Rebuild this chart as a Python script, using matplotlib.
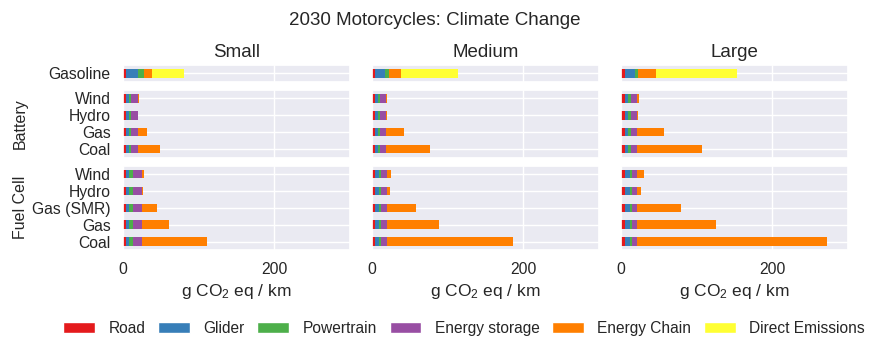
import matplotlib
matplotlib.use("Agg")
import matplotlib.pyplot as plt
from matplotlib.patches import Patch
import seaborn as sns

# Life-cycle contributions, g CO2 eq / km
sizes = ["Small", "Medium", "Large"]
components = ["Road", "Glider", "Powertrain", "Energy storage",
              "Energy Chain", "Direct Emissions"]
colors = ["#e41a1c", "#377eb8", "#4daf4a", "#984ea3", "#ff7f00", "#ffff33"]

gasoline_labels = ["Gasoline"]
battery_labels = ["Wind", "Hydro", "Gas", "Coal"]
fuelcell_labels = ["Wind", "Hydro", "Gas (SMR)", "Gas", "Coal"]

# rows: technology, columns: components
small_gasoline = [[4.4, 15.9, 8.4, 0.0, 9.7, 43.0]]
small_battery = [
    [4.4, 3.5, 3.0, 9.7, 0.8, 0.0],
    [4.4, 3.5, 3.0, 9.7, 0.4, 0.0],
    [4.4, 3.5, 3.0, 9.7, 11.9, 0.0],
    [4.4, 3.5, 3.0, 9.7, 29.0, 0.0],
]
small_fuelcell = [
    [4.4, 4.0, 5.7, 11.0, 2.6, 0.0],
    [4.4, 4.0, 5.7, 11.0, 1.3, 0.0],
    [4.4, 4.0, 5.7, 11.0, 19.8, 0.0],
    [4.4, 4.0, 5.7, 11.0, 36.0, 0.0],
    [4.4, 4.0, 5.7, 11.0, 87.0, 0.0],
]

medium_gasoline = [[4.8, 12.8, 5.3, 0.0, 15.9, 75.3]]
medium_battery = [
    [4.4, 4.0, 3.0, 8.0, 1.3, 0.0],
    [4.4, 4.0, 3.0, 8.0, 0.5, 0.0],
    [4.4, 4.0, 3.0, 8.0, 23.3, 0.0],
    [4.4, 4.0, 3.0, 8.0, 57.3, 0.0],
]
medium_fuelcell = [
    [4.4, 5.3, 3.0, 7.0, 5.7, 0.0],
    [4.4, 5.3, 3.0, 7.0, 4.0, 0.0],
    [4.4, 5.3, 3.0, 7.0, 39.2, 0.0],
    [4.4, 5.3, 3.0, 7.0, 69.6, 0.0],
    [4.4, 5.3, 3.0, 7.0, 167.0, 0.0],
]

large_gasoline = [[5.3, 13.2, 3.5, 0.0, 24.2, 107.5]]
large_battery = [
    [5.3, 4.0, 3.5, 8.4, 2.2, 0.0],
    [5.3, 4.0, 3.5, 8.4, 0.9, 0.0],
    [5.3, 4.0, 3.5, 8.4, 35.2, 0.0],
    [5.3, 4.0, 3.5, 8.4, 85.9, 0.0],
]
large_fuelcell = [
    [5.3, 6.2, 3.0, 6.6, 8.8, 0.0],
    [5.3, 6.2, 3.0, 6.6, 5.7, 0.0],
    [5.3, 6.2, 3.0, 6.6, 58.6, 0.0],
    [5.3, 6.2, 3.0, 6.6, 104.4, 0.0],
    [5.3, 6.2, 3.0, 6.6, 251.5, 0.0],
]

groups = [
    (None, gasoline_labels, [small_gasoline, medium_gasoline, large_gasoline]),
    ("Battery", battery_labels, [small_battery, medium_battery, large_battery]),
    ("Fuel Cell", fuelcell_labels, [small_fuelcell, medium_fuelcell, large_fuelcell]),
]

sns.set_theme(style="darkgrid")
plt.rcParams["font.family"] = ["Liberation Sans", "DejaVu Sans"]
plt.rcParams["mathtext.default"] = "regular"
plt.rcParams["xtick.major.size"] = 0
plt.rcParams["ytick.major.size"] = 0
plt.rcParams["xtick.major.pad"] = 8.5
plt.rcParams["ytick.major.pad"] = 8.5

fig, axes = plt.subplots(
    3, 3, figsize=(8.69, 3.37), dpi=100, sharex=True, sharey="row",
    gridspec_kw=dict(height_ratios=[1, 4, 5], hspace=0.142, wspace=0.097,
                     left=0.141, right=0.976, top=0.807, bottom=0.258),
)

for r, (group, labels, per_size) in enumerate(groups):
    for c, data in enumerate(per_size):
        ax = axes[r, c]
        ypos = list(range(len(labels)))
        left = [0.0] * len(labels)
        for k, comp in enumerate(components):
            vals = [row[k] for row in data]
            ax.barh(ypos, vals, left=left, height=0.5, color=colors[k],
                    linewidth=0, label=comp)
            left = [a + b for a, b in zip(left, vals)]
        ax.set_yticks(ypos)
        ax.set_yticklabels(labels)
        ax.set_ylim(len(labels) - 0.5, -0.5)
        ax.set_xlim(0, 300)
        ax.set_xticks([0, 200])
        ax.tick_params(labelsize=11.3)
        if r == 0:
            ax.set_title(sizes[c], fontsize=13.5)
        if r == 2:
            ax.set_xlabel("g CO$_2$ eq / km", fontsize=12.5)
        if c == 0 and group:
            ax.set_ylabel(group, fontsize=11.5, labelpad=3)

fig.align_ylabels(axes[:, 0])
fig.suptitle("2030 Motorcycles: Climate Change", fontsize=13.5, y=0.965)

handles = [Patch(facecolor=col, label=lab) for col, lab in zip(colors, components)]
fig.legend(handles=handles, ncol=6, loc="center left", bbox_to_anchor=(0.073, 0.026),
           frameon=False, fontsize=11.2, handlelength=2.05, handleheight=0.7,
           handletextpad=0.85, columnspacing=0.82, borderaxespad=0, borderpad=0)

fig.savefig("out.png", dpi=100)
